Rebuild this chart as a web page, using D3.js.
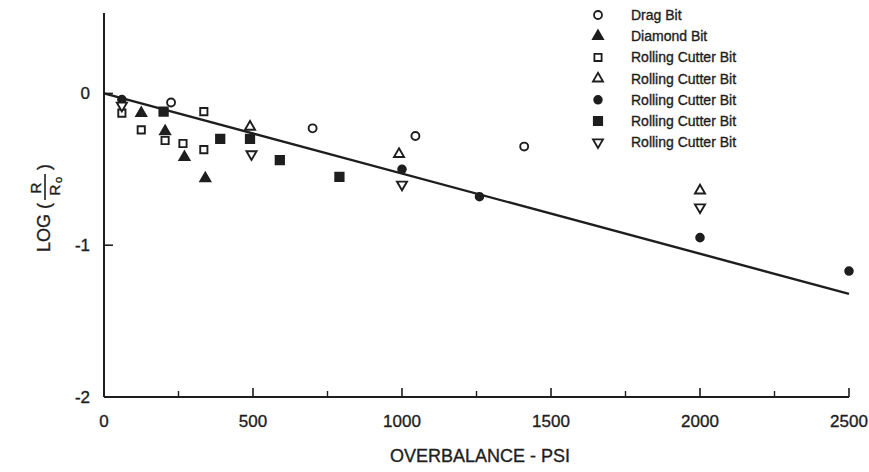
<!DOCTYPE html>
<html lang="en"><head><meta charset="utf-8">
<script type="text/javascript" src="https://cdn.jsdelivr.net/npm/d3@7"></script>
<style>
body { margin: 0; background: #fff; }
text { font-family: "Liberation Sans", Arial, sans-serif; fill: #1e1e1e; stroke: #1e1e1e; stroke-width: 0.35; }
</style>
</head>
<body>
<script type="text/javascript">
// LOG(R/Ro) vs overbalance, one array per bit type
var dragBit = [[225, -0.06], [700, -0.23], [1045, -0.28], [1410, -0.35]];
var diamondBit = [[125, -0.13], [205, -0.25], [270, -0.42], [340, -0.56]];
var rollingOpenSquare = [[60, -0.13], [125, -0.24], [205, -0.31], [265, -0.33], [335, -0.12], [335, -0.37]];
var rollingOpenTriangle = [[490, -0.22], [990, -0.40], [2000, -0.64]];
var rollingDot = [[60, -0.04], [1000, -0.50], [1260, -0.68], [2000, -0.95], [2500, -1.17]];
var rollingFilledSquare = [[200, -0.12], [390, -0.30], [490, -0.30], [590, -0.44], [790, -0.55]];
var rollingDownTriangle = [[60, -0.08], [495, -0.40], [1000, -0.60], [2000, -0.75]];
var fitLine = [[0, 0], [2500, -1.32]];

var xTicks = [0, 500, 1000, 1500, 2000, 2500];
var xMinor = [250, 750, 1250, 1750, 2250];
var yTicks = [0, -1, -2];

var legendNames = ["Drag Bit", "Diamond Bit", "Rolling Cutter Bit", "Rolling Cutter Bit",
                   "Rolling Cutter Bit", "Rolling Cutter Bit", "Rolling Cutter Bit"];

var width = 869, height = 472;
var ink = "#1e1e1e";

var svg = d3.select("body").append("svg")
    .attr("width", width).attr("height", height);

var x = d3.scaleLinear().domain([0, 2500]).range([104, 849]);
var y = d3.scaleLinear().domain([-2, 0.53]).range([397, 13]);

// axes
svg.append("line").attr("x1", x(0)).attr("x2", x(0)).attr("y1", y(0.53)).attr("y2", y(-2))
    .attr("stroke", ink).attr("stroke-width", 2);
svg.append("line").attr("x1", x(0)).attr("x2", x(2500)).attr("y1", y(-2)).attr("y2", y(-2))
    .attr("stroke", ink).attr("stroke-width", 2);

svg.selectAll(".xt").data(xTicks.slice(1)).enter().append("line")
    .attr("x1", d => x(d)).attr("x2", d => x(d))
    .attr("y1", y(-2)).attr("y2", y(-2) - 9)
    .attr("stroke", ink).attr("stroke-width", 1.6);
svg.selectAll(".xm").data(xMinor).enter().append("line")
    .attr("x1", d => x(d)).attr("x2", d => x(d))
    .attr("y1", y(-2)).attr("y2", y(-2) - 6)
    .attr("stroke", ink).attr("stroke-width", 1.4);
svg.selectAll(".yt").data([0, -1]).enter().append("line")
    .attr("x1", x(0)).attr("x2", x(0) + 9)
    .attr("y1", d => y(d)).attr("y2", d => y(d))
    .attr("stroke", ink).attr("stroke-width", 1.6);

svg.selectAll(".xl").data(xTicks).enter().append("text")
    .attr("x", d => x(d)).attr("y", 427)
    .attr("text-anchor", "middle").attr("font-size", 17)
    .text(d => d);
svg.selectAll(".yl").data(yTicks).enter().append("text")
    .attr("x", 90).attr("y", d => y(d) + 6)
    .attr("text-anchor", "end").attr("font-size", 17)
    .text(d => d);

svg.append("text").attr("x", 480).attr("y", 462)
    .attr("text-anchor", "middle").attr("font-size", 18)
    .text("OVERBALANCE - PSI");

// y label: LOG ( R / Ro ), rotated
var yl = svg.append("g").attr("transform", "translate(44,196) rotate(-90)");
yl.append("text").attr("x", -7).attr("y", 6).attr("text-anchor", "end")
    .attr("font-size", 18).text("LOG (");
yl.append("text").attr("x", 8).attr("y", -3).attr("text-anchor", "middle")
    .attr("font-size", 15).text("R");
yl.append("line").attr("x1", -4).attr("x2", 22).attr("y1", 1).attr("y2", 1)
    .attr("stroke", ink).attr("stroke-width", 1.6);
yl.append("text").attr("x", 6).attr("y", 16).attr("text-anchor", "middle")
    .attr("font-size", 15).text("R");
yl.append("text").attr("x", 16).attr("y", 18).attr("text-anchor", "middle")
    .attr("font-size", 11).text("o");
yl.append("text").attr("x", 26).attr("y", 6).attr("font-size", 18).text(")");

// regression line
svg.append("path").datum(fitLine)
    .attr("d", d3.line().x(d => x(d[0])).y(d => y(d[1])))
    .attr("fill", "none").attr("stroke", ink).attr("stroke-width", 2.4);

// marker styles
var tri = d3.symbol().type(d3.symbolTriangle).size(44)();
var styles = [
    {data: dragBit, sym: d3.symbol().type(d3.symbolCircle).size(50)(), fill: "#fff", rot: 0},
    {data: diamondBit, sym: tri, fill: ink, rot: 0},
    {data: rollingOpenSquare, sym: d3.symbol().type(d3.symbolSquare).size(52)(), fill: "#fff", rot: 0},
    {data: rollingOpenTriangle, sym: tri, fill: "#fff", rot: 0},
    {data: rollingDot, sym: d3.symbol().type(d3.symbolCircle).size(46)(), fill: ink, rot: 0},
    {data: rollingFilledSquare, sym: d3.symbol().type(d3.symbolSquare).size(70)(), fill: ink, rot: 0},
    {data: rollingDownTriangle, sym: tri, fill: "#fff", rot: 180}
];

styles.forEach(function(s, i) {
    svg.selectAll(".m" + i).data(s.data).enter().append("path")
        .attr("d", s.sym)
        .attr("transform", d => "translate(" + x(d[0]) + "," + y(d[1]) + ") rotate(" + s.rot + ")")
        .attr("fill", s.fill).attr("stroke", ink).attr("stroke-width", 1.9);
    var ly = 15 + i * 21.2;
    svg.append("path").attr("d", s.sym)
        .attr("transform", "translate(598," + ly + ") rotate(" + s.rot + ")")
        .attr("fill", s.fill).attr("stroke", ink).attr("stroke-width", 1.8);
    svg.append("text").attr("x", 631).attr("y", ly + 5)
        .attr("font-size", 14).text(legendNames[i]);
});
</script>
</body></html>
